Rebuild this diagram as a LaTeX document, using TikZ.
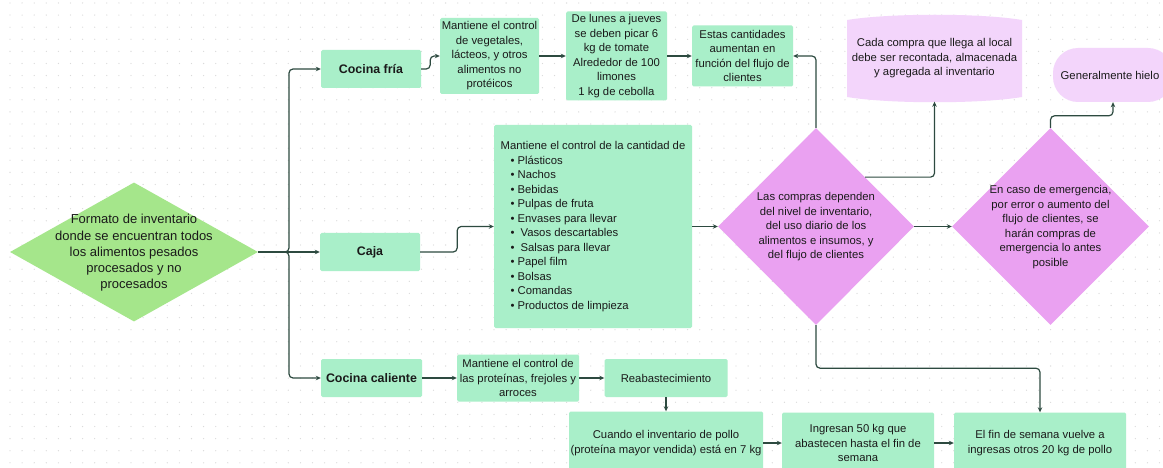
\documentclass[tikz,border=0pt]{standalone}
\usepackage{fontspec}
\setmainfont{Liberation Sans}
\usetikzlibrary{shapes.geometric,arrows.meta}
\definecolor{mint}{HTML}{A9EFC9}
\definecolor{leaf}{HTML}{A5E68B}
\definecolor{violet}{HTML}{EAA1F1}
\definecolor{lilac}{HTML}{F3D5FB}
\definecolor{lineC}{HTML}{2D4A40}
\definecolor{textC}{HTML}{1A1A1A}
\definecolor{dotC}{HTML}{DADADA}
\begin{document}
\begin{tikzpicture}[x=1pt,y=-1pt,
  conn/.style={draw=lineC, line width=1.2pt, rounded corners=4pt, -{Stealth[length=5pt,width=4.5pt]}},
  txt/.style={inner sep=0pt, align=center, text=textC, font=\fontsize{11.3}{14.5}\selectfont},
  box/.style={txt, fill=mint, rounded corners=1.5pt},
  head/.style={box, font=\fontsize{12.4}{15}\selectfont\bfseries},
  dia/.style={shape=diamond, inner sep=0pt, draw=none},
  bl/.style={}]
\useasboundingbox (0,0) rectangle (1163,468);
\clip (0,0) rectangle (1163,468);
\fill[white] (0,0) rectangle (1163,468);
% dotted background
\foreach \i in {0,...,95} {\foreach \j in {0,...,38} {\fill[dotC] (10+\i*12.1,3+\j*12.1) circle (0.65);}}

% main diamond
\node[dia, fill=leaf, minimum width=248pt, minimum height=139pt] (main) at (134,252) {};
\node[txt, font=\fontsize{13}{16.3}\selectfont] (maintxt) at (134,253) {Formato de inventario\\donde se encuentran todos\\los alimentos pesados\\procesados y no\\procesados};

% branch heads
\node[head, minimum width=100pt, minimum height=38pt] (cf) at (371,69) {Cocina fría};
\node[head, minimum width=100pt, minimum height=38pt] (caja) at (370,252) {Caja};
\node[head, minimum width=101pt, minimum height=38pt] (cc) at (371.5,378) {Cocina caliente};

% top row
\node[box, minimum width=99pt, minimum height=76pt] (veg) at (489.5,56) {Mantiene el control\\de vegetales,\\lácteos, y otros\\alimentos no\\protéicos};
\node[box, minimum width=101pt, minimum height=89pt] (lunes) at (616.5,56) {De lunes a jueves\\se deben picar 6\\kg de tomate\\Alrededor de 100\\limones\\1 kg de cebolla};
\node[box, minimum width=101pt, minimum height=61pt] (estas) at (742.5,56) {Estas cantidades\\aumentan en\\función del flujo de\\clientes};

% list
\node[box, align=left, minimum width=198pt, minimum height=203pt] (lista) at (593,226.5) {Mantiene el control de la cantidad de\\
\hspace{10pt}\textbullet\hspace{3pt}Plásticos\\
\hspace{10pt}\textbullet\hspace{3pt}Nachos\\
\hspace{10pt}\textbullet\hspace{3pt}Bebidas\\
\hspace{10pt}\textbullet\hspace{3pt}Pulpas de fruta\\
\hspace{10pt}\textbullet\hspace{3pt}Envases para llevar\\
\hspace{10pt}\textbullet\hspace{6pt}Vasos descartables\\
\hspace{10pt}\textbullet\hspace{6pt}Salsas para llevar\\
\hspace{10pt}\textbullet\hspace{3pt}Papel film\\
\hspace{10pt}\textbullet\hspace{3pt}Bolsas\\
\hspace{10pt}\textbullet\hspace{3pt}Comandas\\
\hspace{10pt}\textbullet\hspace{3pt}Productos de limpieza};

% purple diamonds
\node[dia, fill=violet, minimum width=196pt, minimum height=197pt] (d1) at (816,226.5) {};
\node[txt] (d1txt) at (816,227) {Las compras dependen\\del nivel de inventario,\\del uso diario de los\\alimentos e insumos, y\\del flujo de clientes};
\node[dia, fill=violet, minimum width=197pt, minimum height=197pt] (d2) at (1050.5,226.5) {};
\node[txt] (d2txt) at (1050.5,227) {En caso de emergencia,\\por error o aumento del\\flujo de clientes, se\\harán compras de\\emergencia lo antes\\posible};

% lilac shapes
\fill[lilac] (847,20) .. controls (890,13) and (980,13) .. (1022,20) -- (1022,97) .. controls (980,104) and (890,104) .. (847,97) -- cycle;
\node[txt, minimum width=175pt, minimum height=86pt] (cada) at (934.5,58.5) {Cada compra que llega al local\\debe ser recontada, almacenada\\y agregada al inventario};
\node[txt, fill=lilac, rounded corners=25pt, minimum width=120pt, minimum height=54pt] (hielo) at (1113,75) {\hspace{-6pt}Generalmente hielo};

% bottom row
\node[box, minimum width=122pt, minimum height=47pt] (prot) at (518,378) {Mantiene el control de\\las proteínas, frejoles y\\arroces};
\node[box, minimum width=123pt, minimum height=38pt] (reab) at (666,378) {Reabastecimiento};
\node[box, minimum width=194pt, minimum height=63pt] (cuando) at (666,443) {Cuando el inventario de pollo\\(proteína mayor vendida) está en 7 kg};
\node[box, minimum width=152pt, minimum height=61pt] (ingr) at (858,443) {Ingresan 50 kg que\\abastecen hasta el fin de\\semana};
\node[box, minimum width=172pt, minimum height=61pt] (fin) at (1040,443) {El fin de semana vuelve a\\ingresas otros 20 kg de pollo};

% connectors
\draw[conn] (main.east) -- (289,252) |- (cf.west);
\draw[conn] (main.east) -- (caja.west);
\draw[conn] (main.east) -- (289,252) |- (cc.west);
\draw[conn] (cf.east) -- ++(9,0) |- (veg.west);
\draw[conn] (veg.east) -- (lunes.west);
\draw[conn] (lunes.east) -- (estas.west);
\draw[conn] (caja.east) -- ++(37,0) |- (lista.west);
\draw[conn] (lista.east) -- (d1.west);
\draw[conn] (d1.east) -- (d2.west);
\draw[conn] (d1.north) |- (estas.east);
\draw[conn] (d1.north east) -| (cada.south);
\draw[conn] (d2.north) -- ++(0,-12) -| (hielo.south);
\draw[conn] (d1.south) -- ++(0,43) -| (fin.north);
\draw[conn] (cc.east) -- (prot.west);
\draw[conn] (prot.east) -- (reab.west);
\draw[conn] (reab.south) -- (cuando.north);
\draw[conn] (cuando.east) -- (ingr.west);
\draw[conn] (ingr.east) -- (fin.west);
\end{tikzpicture}
\end{document}
